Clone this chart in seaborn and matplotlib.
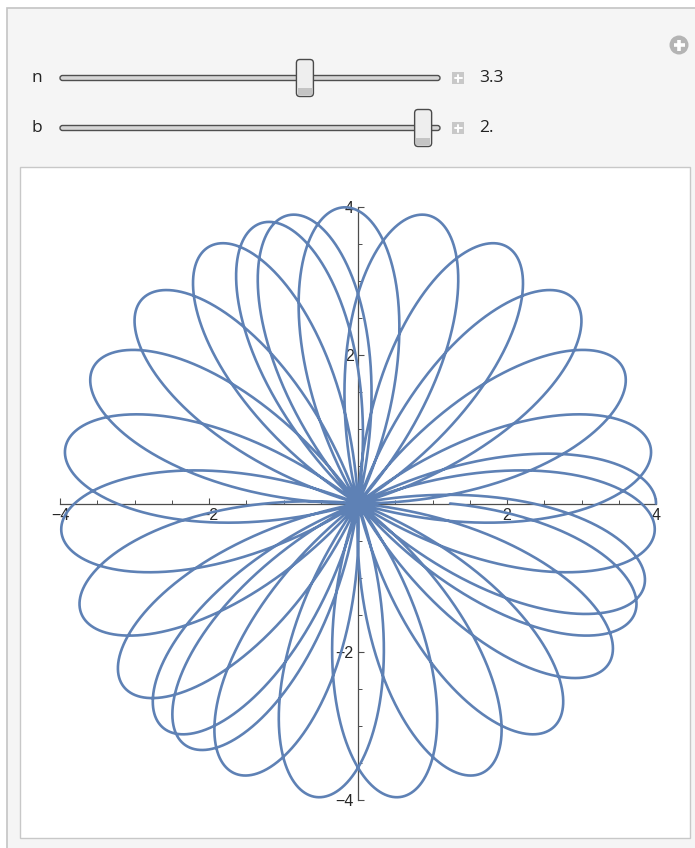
import numpy as np
import pandas as pd
import matplotlib
matplotlib.use("Agg")
import matplotlib.pyplot as plt
import seaborn as sb
from matplotlib.patches import Rectangle, FancyBboxPatch, Circle
from matplotlib.ticker import FixedLocator

# slider values shown in the panel
n_value = 3.3
b_value = 2.0
n_label = "3.3"
b_label = "2."

# slider ranges (used for the thumb positions)
n_min, n_max = 0.0, 5.07
b_min, b_max = 0.0, 2.05

# polar rose r = 2 b cos(n theta), theta from 0 to 8 pi
theta_end = 8 * np.pi
major_ticks = [-4, -2, 2, 4]
minor_ticks = [-3.5, -3, -2.5, -1.5, -1, -0.5, 0.5, 1, 1.5, 2.5, 3, 3.5]
tick_labels = ["\u22124", "\u22122", "2", "4"]

theta = np.linspace(0, theta_end, 30000)
r = 2 * b_value * np.cos(n_value * theta)
curve = pd.DataFrame({"x": r * np.cos(theta), "y": r * np.sin(theta)})

sb.set_style("white")
plt.rcParams["font.family"] = ["Liberation Sans", "DejaVu Sans"]

W, H = 695, 848
fig = plt.figure(figsize=(W / 100, H / 100), dpi=100)
fig.patch.set_facecolor("white")

# background panel in pixel coordinates
bg = fig.add_axes([0, 0, 1, 1])
bg.set_xlim(0, W)
bg.set_ylim(H, 0)
bg.axis("off")
bg.add_patch(Rectangle((7, 8), W, H, facecolor="#f5f5f5", edgecolor="#c4c4c4", lw=1.2))
bg.add_patch(Rectangle((20, 167), 670, 671, facecolor="white", edgecolor="#c8c8c8", lw=1.0))

# plus icon top right
bg.add_patch(Circle((679, 45), 9.5, facecolor="#b4b4b4", edgecolor="none"))
bg.plot([673.5, 684.5], [45, 45], color="white", lw=2.6, solid_capstyle="butt")
bg.plot([679, 679], [39.5, 50.5], color="white", lw=2.6, solid_capstyle="butt")

track_x0, track_x1 = 60, 440


def slider(y, label, frac, text):
    bg.text(37, y, label, fontsize=12.5, family="Open Sans", ha="center", va="center", color="#222222")
    bg.add_patch(FancyBboxPatch((track_x0, y - 2.5), track_x1 - track_x0, 5,
                                boxstyle="round,pad=0,rounding_size=2.5",
                                facecolor="#d6d6d6", edgecolor="#4f4f4f", lw=1.0))
    tx = track_x0 + 8 + frac * (track_x1 - track_x0 - 16)
    bg.add_patch(FancyBboxPatch((tx - 8.5, y - 18.5), 17, 37,
                                boxstyle="round,pad=0,rounding_size=3.5",
                                facecolor="#eeeeee", edgecolor="#4a4a4a", lw=1.0))
    bg.add_patch(Rectangle((tx - 7, y + 10), 14, 6.5, facecolor="#c4c4c4", edgecolor="none"))
    bg.add_patch(Rectangle((452, y - 6), 12, 12, facecolor="#c8c8c8", edgecolor="none"))
    bg.plot([454.5, 461.5], [y, y], color="white", lw=1.4)
    bg.plot([458, 458], [y - 3.5, y + 3.5], color="white", lw=1.4)
    bg.text(479, y, text, fontsize=12.5, family="Open Sans", ha="left", va="center", color="#222222")


slider(78, "n", (n_value - n_min) / (n_max - n_min), n_label)
slider(128, "b", (b_value - b_min) / (b_max - b_min), b_label)

# the plot
ax = fig.add_axes([60 / W, (H - 800) / H, 596 / W, 593 / H])
ax.set_facecolor("none")
sb.lineplot(data=curve, x="x", y="y", sort=False, estimator=None, ax=ax,
            color="#5e81b5", lw=1.9, clip_on=False, zorder=3)
ax.set_xlim(-4, 4)
ax.set_ylim(-4, 4)
ax.set_xlabel("")
ax.set_ylabel("")

for side in ["top", "right"]:
    ax.spines[side].set_visible(False)
for side in ["left", "bottom"]:
    ax.spines[side].set_position("zero")
    ax.spines[side].set_color("#4d4d4d")
    ax.spines[side].set_linewidth(0.9)
    ax.spines[side].set_zorder(1)

ax.xaxis.set_major_locator(FixedLocator(major_ticks))
ax.yaxis.set_major_locator(FixedLocator(major_ticks))
ax.xaxis.set_minor_locator(FixedLocator(minor_ticks))
ax.yaxis.set_minor_locator(FixedLocator(minor_ticks))
ax.set_xticklabels(tick_labels)
ax.set_yticklabels(tick_labels)
ax.tick_params(which="major", direction="in", length=4.5, width=0.8, color="#4d4d4d",
               labelsize=11.5, pad=3, bottom=True, left=True)
ax.tick_params(which="minor", direction="in", length=2.8, width=0.7, color="#4d4d4d",
               bottom=True, left=True)

fig.savefig("out.png", dpi=100, facecolor=fig.get_facecolor())
